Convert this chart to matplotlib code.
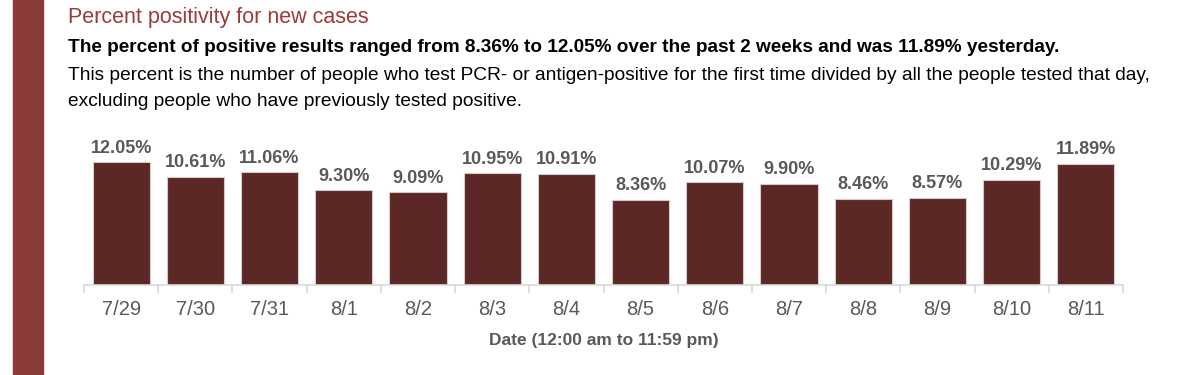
import numpy as np
import matplotlib.pyplot as plt
from matplotlib.patches import Rectangle

# data
dates = ['7/29', '7/30', '7/31', '8/1', '8/2', '8/3', '8/4',
         '8/5', '8/6', '8/7', '8/8', '8/9', '8/10', '8/11']
positivity = [12.05, 10.61, 11.06, 9.30, 9.09, 10.95, 10.91,
              8.36, 10.07, 9.90, 8.46, 8.57, 10.29, 11.89]

plt.rcParams['font.family'] = 'Liberation Sans'

bar_color = '#5C2825'
accent = '#8B3A3A'
gray = '#595959'

fig = plt.figure(figsize=(12, 3.75), dpi=100)

# red strip on the left
fig.patches.append(Rectangle((13/1200, 0), 30/1200, 1, transform=fig.transFigure,
                             color=accent, zorder=0))

fig.text(68/1200, 1 - 18/375, 'Percent positivity for new cases', color='#9E3A38',
         fontsize=15.5, va='center')
fig.text(68/1200, 1 - 47/375,
         'The percent of positive results ranged from 8.36% to 12.05% over the past 2 weeks and was 11.89% yesterday.',
         color='black', fontsize=13.7, fontweight='bold', va='center')
fig.text(68/1200, 1 - 75/375,
         'This percent is the number of people who test PCR- or antigen-positive for the first time divided by all the people tested that day,',
         color='black', fontsize=13.8, va='center')
fig.text(68/1200, 1 - 101/375,
         'excluding people who have previously tested positive.',
         color='black', fontsize=13.8, va='center')

ax = fig.add_axes([84/1200, 1 - 285/375, 1039/1200, 155/375])
x = np.arange(len(dates))
ax.bar(x, positivity, width=0.77, color=bar_color, edgecolor='#D9C9C9', linewidth=0.8)
for xi, v in zip(x, positivity):
    ax.text(xi, v + 0.55, f'{v:.2f}%', ha='center', va='bottom', fontsize=13,
            fontweight='bold', color=gray)

ax.set_xlim(-0.5, len(dates) - 0.5)
ax.set_ylim(0, 15.2)
ax.set_yticks([])
for s in ['top', 'right', 'left']:
    ax.spines[s].set_visible(False)
ax.spines['bottom'].set_color('#D9D9D9')
ax.spines['bottom'].set_linewidth(1.2)
ax.set_xticks(x)
ax.set_xticklabels(dates, fontsize=14.5, color=gray)
ax.tick_params(axis='x', length=0, pad=11)
ax.set_xticks(np.arange(len(dates) + 1) - 0.5, minor=True)
ax.tick_params(axis='x', which='minor', length=6, color='#D9D9D9', width=1.2)
ax.set_xlabel('Date (12:00 am to 11:59 pm)', fontsize=12.5, color=gray, fontweight='bold', labelpad=10)

fig.savefig('out.png', dpi=100)
